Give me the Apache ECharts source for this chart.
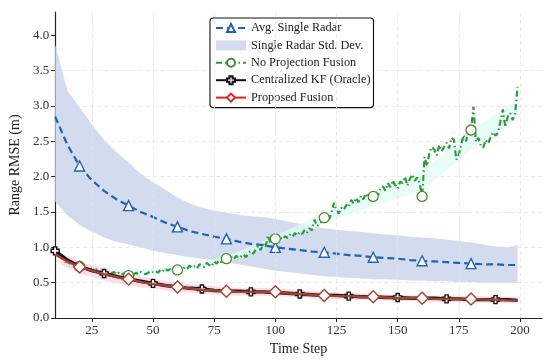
<!DOCTYPE html>
<html>
<head>
<meta charset="utf-8">
<script src="https://cdn.jsdelivr.net/npm/echarts@6/dist/echarts.min.js"></script>
<style>
html,body{margin:0;padding:0;background:#fff;}
#chart{width:550px;height:361px;}
</style>
</head>
<body>
<div id="chart"></div>
<script>
// ---------- data ----------
const steps5 = [10,15,20,25,30,35,40,45,50,55,60,65,70,75,80,85,90,95,100,105,110,115,120,125,130,135,140,145,150,155,160,165,170,175,180,185,190,195,199];
const avgSingle = [2.85,2.45,2.15,1.95,1.80,1.68,1.59,1.50,1.43,1.35,1.29,1.23,1.19,1.15,1.12,1.08,1.05,1.03,1.00,0.98,0.96,0.94,0.93,0.91,0.89,0.88,0.86,0.85,0.84,0.82,0.81,0.80,0.79,0.78,0.77,0.76,0.76,0.75,0.75];
const stdUpper = [3.87,3.22,2.98,2.74,2.52,2.35,2.20,2.04,1.92,1.82,1.70,1.62,1.56,1.52,1.49,1.46,1.44,1.43,1.40,1.37,1.33,1.30,1.27,1.25,1.23,1.22,1.20,1.18,1.17,1.15,1.14,1.13,1.11,1.09,1.07,1.04,1.01,1.00,1.03];
const stdLower = [1.65,1.45,1.32,1.22,1.14,1.08,1.04,1.00,0.95,0.92,0.89,0.86,0.84,0.82,0.79,0.76,0.73,0.70,0.67,0.65,0.63,0.61,0.59,0.58,0.57,0.56,0.55,0.55,0.54,0.53,0.53,0.52,0.52,0.51,0.51,0.50,0.50,0.50,0.50];
const proposed = [0.90,0.80,0.72,0.67,0.62,0.58,0.55,0.51,0.48,0.46,0.44,0.42,0.40,0.39,0.38,0.37,0.37,0.37,0.37,0.35,0.34,0.33,0.32,0.31,0.31,0.30,0.30,0.29,0.28,0.28,0.28,0.27,0.27,0.27,0.27,0.26,0.26,0.25,0.25];
const centralized = [0.95,0.82,0.73,0.67,0.63,0.59,0.55,0.52,0.49,0.46,0.44,0.42,0.41,0.39,0.38,0.38,0.37,0.37,0.36,0.35,0.34,0.33,0.32,0.32,0.31,0.30,0.30,0.29,0.29,0.28,0.28,0.28,0.27,0.27,0.26,0.26,0.26,0.26,0.25];

// No projection fusion: one value per time step, starting at step 10
const noProjStart = 10;
const noProj = [
 0.93,0.90,0.86,0.84,0.80,0.79,0.77,0.76,0.74,0.75,
 0.73,0.74,0.70,0.71,0.68,0.70,0.67,0.69,0.66,0.65,
 0.67,0.64,0.66,0.63,0.65,0.62,0.64,0.61,0.63,0.62,
 0.60,0.63,0.61,0.64,0.62,0.65,0.63,0.62,0.64,0.66,
 0.65,0.67,0.64,0.68,0.66,0.70,0.67,0.69,0.66,0.70,
 0.68,0.71,0.69,0.72,0.70,0.74,0.71,0.73,0.70,0.76,
 0.74,0.72,0.78,0.75,0.73,0.80,0.77,0.82,0.79,0.81,
 0.84,0.82,0.86,0.83,0.88,0.85,0.87,0.90,0.86,0.92,
 0.95,0.91,0.97,1.02,0.96,1.05,1.00,1.17,1.06,1.09,
 1.12,1.08,1.14,1.11,1.16,1.13,1.18,1.15,1.20,1.17,
 1.22,1.19,1.25,1.21,1.27,1.24,1.39,1.30,1.33,1.37,
 1.42,1.46,1.40,1.50,1.63,1.52,1.48,1.56,1.53,1.60,
 1.57,1.67,1.62,1.70,1.64,1.73,1.68,1.76,1.71,1.66,
 1.72,1.79,1.74,1.84,1.86,1.80,1.91,1.85,1.95,1.88,
 1.83,1.93,1.91,2.00,1.87,1.97,2.03,1.94,1.99,1.90,
 1.72,2.28,2.15,2.34,2.42,2.38,2.30,2.45,2.36,2.42,
 2.48,2.40,2.55,2.52,2.24,2.31,2.46,2.59,2.50,2.70,
 2.66,2.99,2.49,2.55,2.44,2.41,2.52,2.47,2.56,2.63,
 2.58,2.62,2.78,2.95,2.70,2.85,2.90,2.80,2.88,3.27
];

// faint spread bands
const cyanSteps = [20,40,60,80,100,120,140,160,180,199];
const cyanLow   = [0.68,0.59,0.64,0.78,1.05,1.34,1.58,1.80,2.38,2.85];
const cyanHigh  = [0.76,0.68,0.72,0.87,1.16,1.50,1.80,2.08,2.65,3.10];
const pinkSteps = [12,20,30,40,60,80,100,120,140,160,180,199];
const pinkLow   = [0.76,0.63,0.53,0.46,0.37,0.32,0.31,0.27,0.25,0.23,0.22,0.21];
const pinkHigh  = [0.92,0.80,0.70,0.62,0.50,0.43,0.42,0.37,0.34,0.32,0.31,0.30];

const avgMarkers = [20,40,60,80,100,120,140,160,180];
const noProjMarkers = [20,40,60,80,100,120,140,160,180];
const proposedMarkers = [20,40,60,80,100,120,140,160,180];
const centralMarkers = [10,30,50,70,90,110,130,150,170,190];

const xTicks = [25,50,75,100,125,150,175,200];
const yTicks = [0,0.5,1,1.5,2,2.5,3,3.5,4];

// ---------- helpers ----------
const pairs = (xs, ys) => xs.map((x, i) => [x, ys[i]]);
const markerSize = (list, size) => (v) => list.indexOf(v[0]) >= 0 ? size : 0;

// band drawn as a polygon through the axes' own scales
function bandSeries(name, xs, lo, hi, color, z) {
  return {
    type: 'custom', name: name, z: z, silent: true,
    data: [[xs[0], lo[0]]],
    itemStyle: {color: color},
    renderItem: function (params, api) {
      const pts = [];
      for (let i = 0; i < xs.length; i++) pts.push(api.coord([xs[i], hi[i]]));
      for (let i = xs.length - 1; i >= 0; i--) pts.push(api.coord([xs[i], lo[i]]));
      const cs = params.coordSys;
      return {
        type: 'polygon',
        shape: {points: pts},
        style: {fill: color},
        clipPath: {type: 'rect', shape: {x: cs.x, y: cs.y, width: cs.width, height: cs.height}}
      };
    }
  };
}

const FONT = "'Liberation Serif','DejaVu Serif',serif";
const plusPath = 'path://M3,0H7V3H10V7H7V10H3V7H0V3H3Z';

const noProjPairs = noProj.map((v, i) => [noProjStart + i, v]);

const chart = echarts.init(document.getElementById('chart'), null, {renderer: 'canvas'});
const option = {
  animation: false,
  backgroundColor: '#fff',
  grid: {left: 45, right: 8, top: 12, bottom: 43},
  legend: {
    orient: 'vertical',
    left: 210, top: 18,
    padding: [4, 3, 4, 5],
    itemWidth: 30, itemHeight: 10, itemGap: 5.4,
    borderColor: '#111', borderWidth: 1.1, borderRadius: 3,
    backgroundColor: '#fff',
    textStyle: {fontFamily: FONT, fontSize: 12.3, color: '#222'},
    data: [
      {name: 'Avg. Single Radar'},
      {name: 'Single Radar Std. Dev.', icon: 'rect', itemStyle: {color: '#d3dcee'}},
      {name: 'No Projection Fusion'},
      {name: 'Centralized KF (Oracle)'},
      {name: 'Proposed Fusion', lineStyle: {color: '#e3202b'}, itemStyle: {borderColor: '#e3202b', color: '#fff'}}
    ]
  },
  xAxis: {
    type: 'value', min: 10, max: 209,
    name: 'Time Step', nameLocation: 'middle', nameGap: 22,
    nameTextStyle: {fontFamily: FONT, fontSize: 14, color: '#222'},
    axisLine: {show: true, lineStyle: {color: '#222', width: 1.2}},
    axisTick: {show: true, length: 4, lineStyle: {color: '#222'}, customValues: xTicks},
    axisLabel: {fontFamily: FONT, fontSize: 13, color: '#333', margin: 6, customValues: xTicks},
    splitLine: {show: false}
  },
  yAxis: {
    type: 'value', min: 0, max: 4.33, interval: 0.5,
    name: 'Range RMSE (m)', nameLocation: 'middle', nameGap: 28, nameRotate: 90,
    nameTextStyle: {fontFamily: FONT, fontSize: 14, color: '#222'},
    axisLine: {show: true, lineStyle: {color: '#222', width: 1.2}},
    axisTick: {show: true, length: 4, lineStyle: {color: '#222'}, customValues: yTicks},
    axisLabel: {fontFamily: FONT, fontSize: 13, color: '#333', margin: 6, customValues: yTicks,
      formatter: v => v.toFixed(1)},
    splitLine: {show: true, showMinLine: false, showMaxLine: false,
      lineStyle: {color: '#e4e4e4', type: [4, 3], width: 0.8}}
  },
  series: [
    // vertical grid lines
    {
      type: 'line', name: '_grid', data: [[10, 0]], symbol: 'none', z: 0,
      lineStyle: {opacity: 0}, silent: true,
      markLine: {
        silent: true, symbol: 'none', label: {show: false},
        lineStyle: {color: '#e4e4e4', type: [4, 3], width: 0.8},
        data: xTicks.filter(t => t <= 209).map(t => ({xAxis: t}))
      }
    },
    bandSeries('Single Radar Std. Dev.', steps5, stdLower, stdUpper, '#d3dcee', 1),
    bandSeries('_cyan', cyanSteps, cyanLow, cyanHigh, 'rgba(222,251,245,0.7)', 1),
    bandSeries('_pink', pinkSteps, pinkLow, pinkHigh, 'rgba(252,220,235,1)', 1),
    // Avg single radar
    {
      type: 'line', name: 'Avg. Single Radar', data: pairs(steps5, avgSingle), z: 3,
      symbol: 'triangle', symbolSize: markerSize(avgMarkers, 10),
      lineStyle: {color: '#1f63b4', width: 2.2, type: [7, 4]},
      itemStyle: {color: '#fff', borderColor: '#1f63b4', borderWidth: 1.4}
    },
    // No projection fusion
    {
      type: 'line', name: 'No Projection Fusion', data: noProjPairs, z: 4,
      symbol: 'circle', symbolSize: markerSize(noProjMarkers, 10),
      lineStyle: {color: '#2e9a3a', width: 2.2, type: [6, 3, 1.5, 3]},
      itemStyle: {color: '#fff', borderColor: '#4a8a2e', borderWidth: 1.3}
    },
    // Centralized KF
    {
      type: 'line', name: 'Centralized KF (Oracle)', data: pairs(steps5, centralized), z: 5,
      symbol: plusPath, symbolSize: markerSize(centralMarkers, 8),
      lineStyle: {color: '#111', width: 3.4},
      itemStyle: {color: '#fff', borderColor: '#111', borderWidth: 1.4}
    },
    // Proposed fusion
    {
      type: 'line', name: 'Proposed Fusion', data: pairs(steps5, proposed), z: 6,
      symbol: 'diamond', symbolSize: markerSize(proposedMarkers, 12),
      lineStyle: {color: '#a4442e', width: 2.4},
      itemStyle: {color: '#fff', borderColor: '#a4442e', borderWidth: 1.4}
    }
  ]
};
chart.setOption(option);
</script>
</body>
</html>
